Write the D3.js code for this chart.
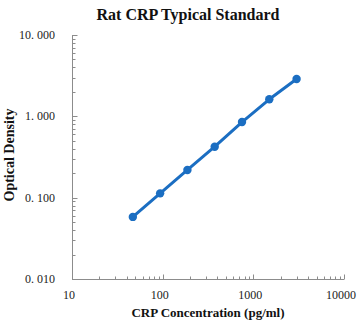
<!DOCTYPE html>
<html>
<head>
<meta charset="utf-8">
<script src="https://cdn.jsdelivr.net/npm/d3@7/dist/d3.min.js"></script>
<style>
  html, body { margin: 0; padding: 0; background: #fff; }
  svg { display: block; }
</style>
</head>
<body>
<svg id="chart" width="362" height="323"></svg>
<script>
// Standard curve: concentration (pg/ml) vs optical density
const concentrations = [46.875, 93.75, 187.5, 375, 750, 1500, 3000];
const opticalDensity = [0.058, 0.113, 0.219, 0.423, 0.851, 1.62, 2.88];
const xTickValues = [10, 100, 1000, 10000];
const yTickValues = [0.01, 0.1, 1, 10];

const svg = d3.select("#chart");
const plotLeft = 72, plotRight = 344, plotTop = 35, plotBottom = 279;

const x = d3.scaleLog().domain([10, 10000]).range([plotLeft, plotRight]);
const y = d3.scaleLog().domain([0.01, 10]).range([plotBottom, plotTop]);

const axisColor = "#8c8c8c";
const serif = "'Liberation Serif', 'Times New Roman', serif";

// minor tick values (2..9 within each decade)
function minorTicks(lo, hi) {
  const out = [];
  for (let d = lo; d < hi * 0.999; d *= 10) {
    for (let k = 2; k <= 9; k++) out.push(d * k);
  }
  return out;
}

// Y axis: ticks point inward (to the right)
const yAxisG = svg.append("g").attr("transform", `translate(${plotLeft + 0.5},0)`);
yAxisG.append("line").attr("x1", 0).attr("x2", 0).attr("y1", plotTop).attr("y2", plotBottom)
  .attr("stroke", axisColor).attr("stroke-width", 1);
yAxisG.selectAll("line.major").data(yTickValues).join("line")
  .attr("class", "major")
  .attr("x1", 0).attr("x2", 5)
  .attr("y1", d => Math.round(y(d)) + 0.5).attr("y2", d => Math.round(y(d)) + 0.5)
  .attr("stroke", axisColor);
yAxisG.selectAll("line.minor").data(minorTicks(0.01, 10)).join("line")
  .attr("class", "minor")
  .attr("x1", 0).attr("x2", 3)
  .attr("y1", d => Math.round(y(d)) + 0.5).attr("y2", d => Math.round(y(d)) + 0.5)
  .attr("stroke", axisColor);
svg.selectAll("text.ylab").data(yTickValues).join("text")
  .attr("class", "ylab")
  .attr("x", 55).attr("y", d => y(d) + 4)
  .attr("text-anchor", "end")
  .attr("font-family", serif).attr("font-size", 12).attr("fill", "#222")
  .text(d => d3.format(".3f")(d).replace(".", ". "));

// X axis: ticks point inward (upward)
const xAxisG = svg.append("g").attr("transform", `translate(0,${plotBottom + 0.5})`);
xAxisG.append("line").attr("x1", plotLeft).attr("x2", plotRight).attr("y1", 0).attr("y2", 0)
  .attr("stroke", axisColor).attr("stroke-width", 1);
xAxisG.selectAll("line.major").data(xTickValues).join("line")
  .attr("class", "major")
  .attr("x1", d => Math.round(x(d)) + 0.5).attr("x2", d => Math.round(x(d)) + 0.5)
  .attr("y1", 0).attr("y2", -5)
  .attr("stroke", axisColor);
xAxisG.selectAll("line.minor").data(minorTicks(10, 10000)).join("line")
  .attr("class", "minor")
  .attr("x1", d => Math.round(x(d)) + 0.5).attr("x2", d => Math.round(x(d)) + 0.5)
  .attr("y1", 0).attr("y2", -3)
  .attr("stroke", axisColor);
svg.selectAll("text.xlab").data(xTickValues).join("text")
  .attr("class", "xlab")
  .attr("x", d => x(d) - 3).attr("y", 299)
  .attr("text-anchor", "middle")
  .attr("font-family", serif).attr("font-size", 12).attr("fill", "#222")
  .text(d => String(d));

// Curve and points
const points = concentrations.map((c, i) => [c, opticalDensity[i]]);
const blue = "#1b6ec2";
svg.append("path")
  .datum(points)
  .attr("fill", "none")
  .attr("stroke", blue)
  .attr("stroke-width", 3)
  .attr("stroke-linejoin", "round")
  .attr("stroke-linecap", "round")
  .attr("d", d3.line().x(d => x(d[0])).y(d => y(d[1])));
svg.selectAll("circle.pt").data(points).join("circle")
  .attr("class", "pt")
  .attr("cx", d => x(d[0])).attr("cy", d => y(d[1]))
  .attr("r", 4.2)
  .attr("fill", blue);

// Titles
svg.append("text")
  .attr("x", 188).attr("y", 20)
  .attr("text-anchor", "middle")
  .attr("font-family", serif).attr("font-weight", "bold").attr("font-size", 16)
  .attr("fill", "#111")
  .text("Rat CRP Typical Standard");
svg.append("text")
  .attr("x", 208).attr("y", 317)
  .attr("text-anchor", "middle")
  .attr("font-family", serif).attr("font-weight", "bold").attr("font-size", 13)
  .attr("fill", "#111")
  .text("CRP Concentration (pg/ml)");
svg.append("text")
  .attr("transform", "translate(14,155) rotate(-90)")
  .attr("text-anchor", "middle")
  .attr("font-family", serif).attr("font-weight", "bold").attr("font-size", 14)
  .attr("fill", "#111")
  .text("Optical Density");
</script>
</body>
</html>
